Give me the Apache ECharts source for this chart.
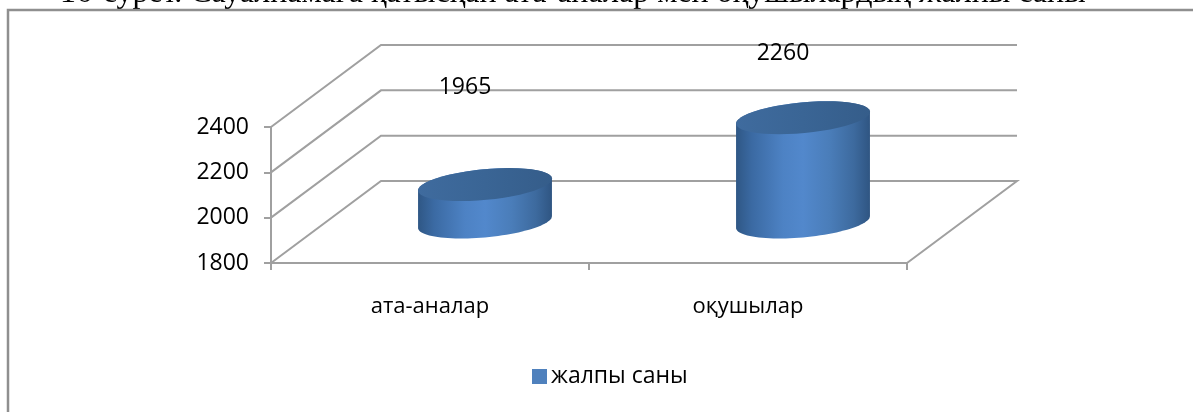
<!DOCTYPE html>
<html><head><meta charset="utf-8">
<style>html,body{margin:0;padding:0;background:#fff}#c{width:1193px;height:412px}</style>
<script src="https://cdn.jsdelivr.net/npm/echarts@6/dist/echarts.min.js"></script>
</head><body><div id="c"></div>
<script>
var categories = ['ата-аналар', 'оқушылар'];
var seriesName = 'жалпы саны';
var values = [1965, 2260];
var yTicks = [1800, 2000, 2200, 2400];
var titleText = '16-сурет. Сауалнамаға қатысқан ата-аналар мен оқушылардың жалпы саны';

var FONT = '"Open Sans", sans-serif';
var GREY = '#a0a0a0';
var DEPTH = [110, -82];
var BASE = 1800;
var RX = 62.5, RS = 24, RY = 16.5;
function ringPoint(c, t) { // skewed ellipse of the cylinder section
  return [c[0] + RX * Math.cos(t) + RS * Math.sin(t), c[1] - RY * Math.sin(t)];
}
var T_RIGHT = Math.atan2(RS, RX), T_LEFT = T_RIGHT + Math.PI;
function arc(c, a, b) {
  var pts = [], n = 48;
  for (var i = 0; i <= n; i++) pts.push(ringPoint(c, a + (b - a) * i / n));
  return pts;
}
var chart = echarts.init(document.getElementById('c'), null, { renderer: 'canvas' });
chart.setOption({
  animation: false,
  backgroundColor: '#fff',
  title: { text: titleText, left: 60, top: -22, padding: 0, textStyle: { fontFamily: '"Liberation Serif", serif', fontSize: 32, fontWeight: 'normal', color: '#000' } },
  legend: { left: 532, top: 365, padding: 0, itemWidth: 15, itemHeight: 15, itemGap: 6, icon: 'rect',
    data: [seriesName], textStyle: { fontFamily: FONT, fontSize: 23, color: '#000', padding: [5, 0, 0, -1] } },
  graphic: [{ type: 'rect', z: 10, silent: true, shape: { x: 8, y: 10, width: 1200, height: 500 }, style: { fill: 'none', stroke: '#8f8f8f', lineWidth: 2.5 } }],
  grid: { left: 271, width: 636, top: 127, height: 136 },
  xAxis: { type: 'category', data: categories,
    axisLine: { lineStyle: { color: GREY, width: 2 } },
    axisTick: { show: true, length: 7, lineStyle: { color: GREY, width: 2 } },
    axisLabel: { margin: 33, fontFamily: FONT, fontSize: 22, color: '#000' } },
  yAxis: { type: 'value', min: 1800, max: 2400, interval: 200,
    axisLine: { show: true, lineStyle: { color: GREY, width: 2 } },
    axisTick: { show: true, length: 7, lineStyle: { color: GREY, width: 2 } },
    axisLabel: { margin: 22, padding: [4, 0, 0, 0], fontFamily: FONT, fontSize: 23, color: '#000', formatter: function (v) { return String(v); } },
    splitLine: { show: false } },
  series: [
    { type: 'custom', name: 'walls', silent: true, data: yTicks.map(function (v) { return [0, v]; }), z: 1,
      encode: { x: 0, y: 1 }, clip: false,
      renderItem: function (params, api) {
        var y = api.coord([0, api.value(1)])[1], L = params.coordSys.x, R = L + params.coordSys.width;
        var pts = [[L, y], [L + DEPTH[0], y + DEPTH[1]], [R + DEPTH[0], y + DEPTH[1]]];
        if (api.value(1) === BASE) pts.push([R, y]);
        return { type: 'polyline', shape: { points: pts }, style: { stroke: GREY, lineWidth: 2, fill: 'none' } };
      } },
    { type: 'custom', name: seriesName, z: 3, clip: false, itemStyle: { color: '#4f81bd' },
      data: values.map(function (v, i) { return [i, v]; }), encode: { x: 0, y: 1 },
      renderItem: function (params, api) {
        var i = api.value(0), v = api.value(1);
        var dx = DEPTH[0] / 2, dy = DEPTH[1] / 2;
        var b = api.coord([i, BASE]), t = api.coord([i, v]);
        var cb = [b[0] + dx, b[1] + dy], ct = [t[0] + dx, t[1] + dy];
        var body = arc(ct, T_RIGHT, T_LEFT).concat(arc(cb, T_LEFT, T_RIGHT + 2 * Math.PI));
        var mid = api.coord([i, (v + BASE) / 2]);
        return { type: 'group', children: [
          { type: 'polygon', shape: { points: body }, style: { fill: { type: 'linear', x: 0, y: 0, x2: 1, y2: 0, colorStops: [
            { offset: 0, color: '#2f5785' }, { offset: 0.12, color: '#3b6aa3' }, { offset: 0.35, color: '#4d82c4' }, { offset: 0.5, color: '#5288cc' }, { offset: 0.7, color: '#4a7db9' }, { offset: 0.88, color: '#3d6a9e' }, { offset: 1, color: '#2f5582' }] } } },
          { type: 'polygon', shape: { points: arc(ct, 0, 2 * Math.PI) }, style: { fill: { type: 'linear', x: 0, y: 0, x2: 1, y2: 0, colorStops: [
            { offset: 0, color: '#3f6b9e' }, { offset: 0.5, color: '#3a6595' }, { offset: 1, color: '#355d8a' }] } } },
          // Label height follows half the bar rise, as the original 3D label placement does
          { type: 'text', style: { x: mid[0] + 35, y: mid[1] - 157, text: String(v), align: 'center', verticalAlign: 'middle', fontFamily: FONT, fontSize: 23, fill: '#000' } }
        ] };
      } }
  ]
});
</script></body></html>
